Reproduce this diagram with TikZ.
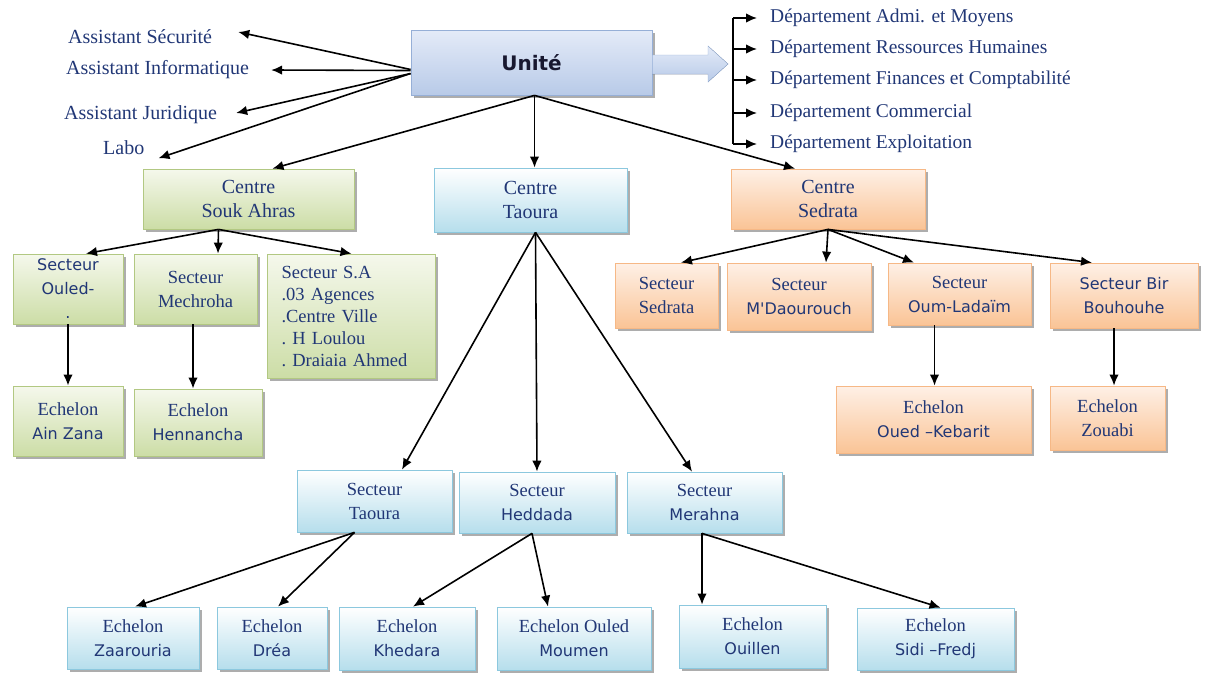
\documentclass[tikz,border=0pt]{standalone}
\usepackage{fontspec}
\setmainfont{Liberation Serif}
\newfontfamily\vsans{DejaVu Sans}
\usetikzlibrary{arrows.meta}
\usetikzlibrary{shadows}
\definecolor{txtblue}{RGB}{33,55,118}
\definecolor{unitink}{RGB}{24,24,48}
\definecolor{unitline}{RGB}{150,175,215}
\definecolor{unittop}{RGB}{228,235,248}
\definecolor{unitbot}{RGB}{184,202,232}
\definecolor{greenline}{RGB}{178,200,130}
\definecolor{greentop}{RGB}{245,248,236}
\definecolor{greenbot}{RGB}{204,221,166}
\definecolor{blueline}{RGB}{140,200,222}
\definecolor{bluebot}{RGB}{182,222,236}
\definecolor{orangeline}{RGB}{246,184,134}
\definecolor{orangetop}{RGB}{254,240,230}
\definecolor{orangebot}{RGB}{250,196,150}
\tikzset{
  arr/.style={-{Latex[length=11pt,width=9.5pt]},line width=1.6pt},
  box/.style={rectangle,align=center,inner sep=2pt,text=txtblue,line width=0.8pt,
    font=\fontsize{18.5}{24}\selectfont,
    drop shadow={fill=black!40,shadow xshift=2.5pt,shadow yshift=-2.5pt,opacity=0.8}},
  greenbox/.style={box,draw=greenline,top color=greentop,bottom color=greenbot},
  bluebox/.style={box,draw=blueline,top color=white,bottom color=bluebot},
  orangebox/.style={box,draw=orangeline,top color=orangetop,bottom color=orangebot},
  assist text/.style={text=txtblue,inner sep=0pt,anchor=west,font=\fontsize{20}{24}\selectfont},
  dept text/.style={text=txtblue,inner sep=0pt,anchor=west,font=\fontsize{19.5}{22}\selectfont},
}
\newcommand\sline[1]{{\vsans\fontsize{16}{24}\selectfont #1}}

\begin{document}
\begin{tikzpicture}[x=1pt,y=-1pt]
  \useasboundingbox (0,0) rectangle (1208,673);

  % UNITE
  \node[box,draw=unitline,top color=unittop,bottom color=unitbot,
        minimum width=241,minimum height=65] (unite) at (531.5,62.5)
        {\vsans\bfseries\fontsize{20}{24}\selectfont\color{unitink}Unité};
  \filldraw[draw=unitline,top color=unittop,bottom color=unitbot]
    (unite.east |- 0,55) -- (708,55) -- (708,46) -- (728,64) -- (708,82)
    -- (708,74) -- (unite.east |- 0,74) -- cycle;

  % ASSISTANTS
  \node[assist text] (asec) at (68,37) {Assistant Sécurité};
  \node[assist text] (ainf) at (66,70) {Assistant Informatique};
  \node[assist text] (ajur) at (64,115) {Assistant Juridique};
  \node[assist text] (labo) at (103,148) {Labo};
  \draw[arr] ([yshift=-7pt]unite.west) -- ([xshift=26pt,yshift=5pt]asec.east);
  \draw[arr] ([yshift=-8pt]unite.west) -- ([xshift=22pt]ainf.east);
  \draw[arr] ([yshift=-11pt]unite.west) -- ([xshift=19pt,yshift=2pt]ajur.east);
  \draw[arr] ([yshift=-11pt]unite.west) -- ([xshift=14pt,yshift=-3pt]labo.south east);

  % DEPARTEMENTS
  \coordinate (bustop) at (733,18);
  \coordinate (busbot) at (733,144);
  \draw[line width=1.6pt] (bustop) -- (busbot);
  \foreach \name/\yy/\txt in {d1/18/{Département Admi. et Moyens},
      d2/49/{Département Ressources Humaines},
      d3/80/{Département Finances et Comptabilité},
      d4/113/{Département Commercial},
      d5/144/{Département Exploitation}}{
    \node[dept text,inner xsep=0pt] (\name) at (770,\yy) {\txt};
    \draw[arr] (\name -| bustop) -- ([xshift=-13pt]\name.west);
  }

  % CENTRES
  \node[greenbox,minimum width=211,minimum height=60] (csa) at (248.5,199)
    {\fontsize{20}{23}\selectfont Centre\\\fontsize{20}{23}\selectfont Souk Ahras};
  \node[bluebox,minimum width=193,minimum height=64] (ctao) at (530.5,200)
    {\fontsize{20}{23}\selectfont Centre\\\fontsize{20}{23}\selectfont Taoura};
  \node[orangebox,minimum width=194,minimum height=60] (csed) at (828,199)
    {\fontsize{20}{23}\selectfont Centre\\\fontsize{20}{23}\selectfont Sedrata};
  \draw[arr] ([xshift=3pt]unite.south) -- ([xshift=24pt]csa.north);
  \draw[arr] ([xshift=3pt]unite.south) -- ([xshift=4pt]ctao.north);
  \draw[arr] ([xshift=3pt]unite.south) -- ([xshift=-33pt]csed.north);

  % SOUK AHRAS
  \node[greenbox,minimum width=110,minimum height=70] (souled) at (68,289)
    {\sline{Secteur}\\\sline{Ouled-}\\\sline{.}};
  \node[greenbox,minimum width=123,minimum height=70] (smech) at (195.5,289)
    {Secteur\\Mechroha};
  \node[greenbox,minimum width=167,minimum height=124,align=left,text width=140pt,
        inner xsep=14pt,font=\fontsize{18.5}{22}\selectfont\frenchspacing] (ssa) at (351.5,316)
    {Secteur S.A\\.03 Agences\\.Centre Ville\\. H Loulou\\. Draiaia Ahmed};
  \node[greenbox,minimum width=110,minimum height=70] (eain) at (68,421)
    {Echelon\\\sline{Ain Zana}};
  \node[greenbox,minimum width=128,minimum height=67] (ehenn) at (198,422.5)
    {Echelon\\\sline{Hennancha}};
  \draw[arr] ([xshift=-30pt]csa.south) -- ([xshift=18pt]souled.north);
  \draw[arr] ([xshift=-30pt]csa.south) -- ([xshift=22.5pt]smech.north);
  \draw[arr] ([xshift=-30pt]csa.south) -- (ssa.north);
  \draw[arr] (souled.south) -- (eain.north);
  \draw[arr] ([xshift=-2.5pt]smech.south) -- ([xshift=-2.5pt]smech.south |- ehenn.north);

  % SEDRATA
  \node[orangebox,minimum width=103,minimum height=65] (ssed) at (666.5,295.5)
    {Secteur\\Sedrata};
  \node[orangebox,minimum width=144,minimum height=67] (sdaou) at (799,296.5)
    {Secteur\\\sline{M\textquotesingle Daourouch}};
  \node[orangebox,minimum width=143,minimum height=62] (soum) at (959.5,294)
    {Secteur\\\sline{Oum-Ladaïm}};
  \node[orangebox,minimum width=148,minimum height=65] (sbir) at (1124,295.5)
    {\sline{Secteur Bir}\\\sline{Bouhouhe}};
  \node[orangebox,minimum width=195,minimum height=67] (ekeb) at (933.5,419.5)
    {Echelon\\\sline{Oued –Kebarit}};
  \node[orangebox,minimum width=115,minimum height=64] (ezou) at (1107.5,418)
    {Echelon\\Zouabi};
  \draw[arr] (csed.south) -- ([xshift=14.5pt]ssed.north);
  \draw[arr] (csed.south) -- ([xshift=27pt]sdaou.north);
  \draw[arr] (csed.south) -- ([xshift=-45.5pt]soum.north);
  \draw[arr] (csed.south) -- ([xshift=-32pt]sbir.north);
  \draw[arr] ([xshift=-25pt]soum.south) -- ([xshift=-25pt]soum.south |- ekeb.north);
  \draw[arr] ([xshift=-10pt]sbir.south) -- ([xshift=-10pt]sbir.south |- ezou.north);

  % TAOURA
  \node[bluebox,minimum width=155,minimum height=62] (stao) at (374.5,501)
    {Secteur\\Taoura};
  \node[bluebox,minimum width=156,minimum height=61] (shed) at (537,502.5)
    {Secteur\\\sline{Heddada}};
  \node[bluebox,minimum width=155,minimum height=61] (smer) at (704.5,502.5)
    {Secteur\\\sline{Merahna}};
  \draw[arr] ([xshift=5pt]ctao.south) -- ([xshift=27.5pt]stao.north);
  \draw[arr] ([xshift=5pt]ctao.south) -- (shed.north);
  \draw[arr] ([xshift=5pt]ctao.south) -- ([xshift=-12.5pt]smer.north);

  \node[bluebox,minimum width=132,minimum height=62] (ezaa) at (133,638)
    {Echelon\\\sline{Zaarouria}};
  \node[bluebox,minimum width=110,minimum height=62] (edrea) at (272,638)
    {Echelon\\\sline{Dréa}};
  \node[bluebox,minimum width=136,minimum height=63] (ekhe) at (407,638.5)
    {Echelon\\\sline{Khedara}};
  \node[bluebox,minimum width=154,minimum height=63] (emou) at (574,638.5)
    {Echelon Ouled\\\sline{Moumen}};
  \node[bluebox,minimum width=147,minimum height=63] (eoui) at (752.5,636.5)
    {Echelon\\\sline{Ouillen}};
  \node[bluebox,minimum width=157,minimum height=62] (esid) at (935.5,639)
    {Echelon\\\sline{Sidi –Fredj}};
  \draw[arr] ([xshift=-20pt]stao.south) -- ([xshift=2pt]ezaa.north);
  \draw[arr] ([xshift=-20pt]stao.south) -- ([xshift=6pt]edrea.north);
  \draw[arr] ([xshift=-5pt]shed.south) -- ([xshift=6pt]ekhe.north);
  \draw[arr] ([xshift=-5pt]shed.south) -- ([xshift=-26pt]emou.north);
  \draw[arr] ([xshift=-2.5pt]smer.south) -- ([xshift=-2.5pt]smer.south |- eoui.north);
  \draw[arr] ([xshift=-2.5pt]smer.south) -- ([xshift=5pt]esid.north);
\end{tikzpicture}
\end{document}
